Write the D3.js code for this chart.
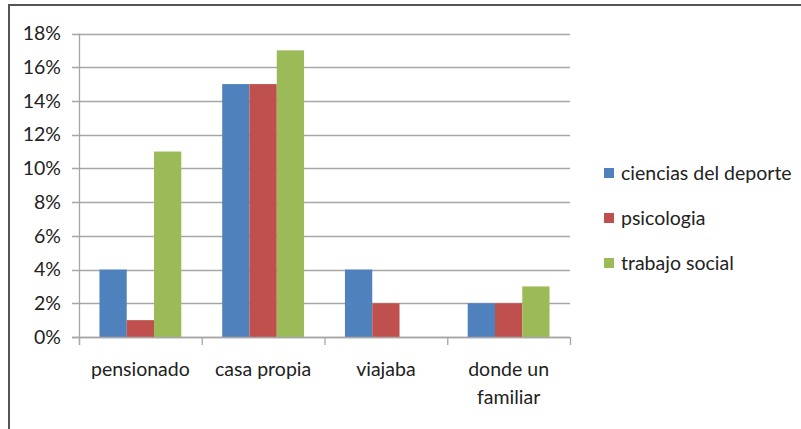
<!DOCTYPE html>
<html lang="es">
<head>
<meta charset="UTF-8">
<title>Chart</title>
<script src="https://cdnjs.cloudflare.com/ajax/libs/d3/7.8.5/d3.min.js"></script>
<style>
    body { margin: 0; background: #fff; }
    text { font-family: Lato, "Open Sans", sans-serif; fill: #222; }
</style>
</head>
<body>
<svg id="chart" width="801" height="429"></svg>
<script>
var categories = [["pensionado"], ["casa propia"], ["viajaba"], ["donde un", "familiar"]];
var seriesNames = ["ciencias del deporte", "psicologia", "trabajo social"];
var seriesColors = ["#4f81bd", "#c0504d", "#9bbb59"];
var deporte = [0.04, 0.15, 0.04, 0.02];
var psicologia = [0.01, 0.15, 0.02, 0.02];
var trabajo = [0.11, 0.17, 0, 0.03];
var yTicks = [0, 0.02, 0.04, 0.06, 0.08, 0.10, 0.12, 0.14, 0.16, 0.18];

(function () {
    var svg = d3.select("#chart");
    var series = [deporte, psicologia, trabajo];
    var left = 79, right = 570, top = 33.5, bottom = 337;
    var fontSize = "19.5px";

    // frame (top and left edges only are visible)
    svg.append("line").attr("x1", 9).attr("x2", 801).attr("y1", 5).attr("y2", 5)
        .attr("stroke", "#555").attr("stroke-width", 2);
    svg.append("line").attr("x1", 9).attr("x2", 9).attr("y1", 4).attr("y2", 429)
        .attr("stroke", "#555").attr("stroke-width", 2);

    var x = d3.scaleBand().domain(d3.range(categories.length)).range([left, right]);
    var x1 = d3.scaleBand().domain(d3.range(series.length))
        .range([0, x.bandwidth()]).paddingInner(0).paddingOuter(0.75);
    var y = d3.scaleLinear().domain([0, 0.18]).range([bottom, top]);

    // gridlines
    svg.append("g").selectAll("line").data(yTicks).enter().append("line")
        .attr("x1", left - 7).attr("x2", right)
        .attr("y1", function (d) { return Math.round(y(d)) + 0.5; })
        .attr("y2", function (d) { return Math.round(y(d)) + 0.5; })
        .attr("stroke", "#a6a6a6").attr("stroke-width", 1.3);

    svg.append("g").selectAll("text").data(yTicks).enter().append("text")
        .attr("x", 61).attr("y", function (d) { return y(d); })
        .attr("dy", "0.35em").attr("text-anchor", "end")
        .style("font-size", fontSize)
        .text(function (d) { return Math.round(d * 100) + "%"; });

    // bars
    series.forEach(function (vals, s) {
        svg.append("g").selectAll("rect").data(vals).enter().append("rect")
            .attr("x", function (d, i) { return x(i) + x1(s); })
            .attr("width", x1.bandwidth())
            .attr("y", function (d) { return y(d); })
            .attr("height", function (d) { return bottom - y(d); })
            .attr("fill", seriesColors[s]);
    });

    // axes lines
    svg.append("line").attr("x1", left + 0.5).attr("x2", left + 0.5)
        .attr("y1", top).attr("y2", bottom + 8)
        .attr("stroke", "#a6a6a6").attr("stroke-width", 1.3);
    svg.append("line").attr("x1", left - 7).attr("x2", right)
        .attr("y1", bottom + 0.5).attr("y2", bottom + 0.5)
        .attr("stroke", "#a6a6a6").attr("stroke-width", 1.3);
    svg.append("g").selectAll("line").data(d3.range(categories.length + 1)).enter().append("line")
        .attr("x1", function (d) { return left + d * x.step() + 0.5; })
        .attr("x2", function (d) { return left + d * x.step() + 0.5; })
        .attr("y1", bottom).attr("y2", bottom + 8)
        .attr("stroke", "#a6a6a6").attr("stroke-width", 1.3);

    // category labels
    var catG = svg.append("g").selectAll("text").data(categories).enter().append("text")
        .attr("text-anchor", "middle")
        .style("font-size", fontSize);
    catG.selectAll("tspan").data(function (d, i) { return d.map(function (t) { return [t, i]; }); })
        .enter().append("tspan")
        .attr("x", function (d) { return x(d[1]) + x.bandwidth() / 2; })
        .attr("y", function (d, j) { return 376 + j * 28; })
        .text(function (d) { return d[0]; });

    // legend
    var leg = svg.append("g").selectAll("g").data(seriesNames).enter().append("g")
        .attr("transform", function (d, i) { return "translate(604," + (173 + i * 45) + ")"; });
    leg.append("rect").attr("x", 0).attr("y", -5).attr("width", 10).attr("height", 10)
        .attr("fill", function (d, i) { return seriesColors[i]; });
    leg.append("text").attr("x", 17).attr("y", 0).attr("dy", "0.35em")
        .style("font-size", fontSize)
        .text(function (d) { return d; });
})();
</script>
</body>
</html>
